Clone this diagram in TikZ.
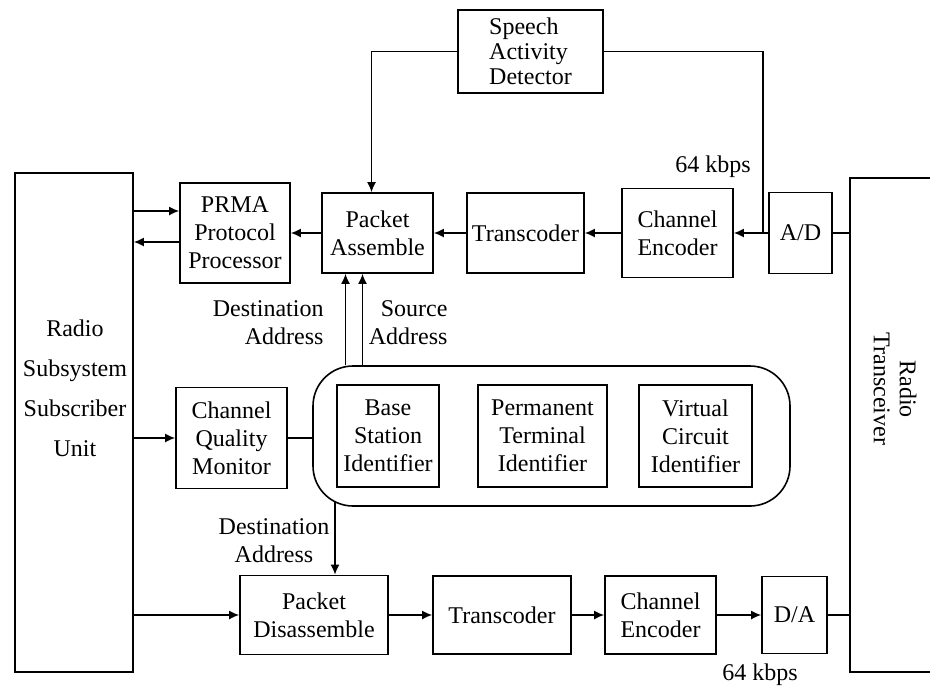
\documentclass[tikz,border=0pt]{standalone}
\usepackage{fontspec}
\setmainfont{Liberation Serif}
\usetikzlibrary{arrows.meta,calc}

\begin{document}
\begin{tikzpicture}[
  x=0.5pt, y=-0.5pt,
  font=\fontsize{12}{14}\selectfont,
  line width=0.8pt,
  blk/.style={draw, align=center, inner sep=1pt},
  grpbox/.style={draw, rounded corners=20pt},
  lbl/.style={align=center},
  arr/.style={-{Latex[length=5pt,width=4.5pt]}},
]
  \useasboundingbox (0,0) rectangle (930,686);
  \clip (0,0) rectangle (930,686);

  % Subscriber unit and transceiver
  \node[blk, minimum width=59pt, minimum height=249.5pt] (rssu) at (74,422.5) {};
  \node[lbl] (rssutxt) at (75,388) {Radio\\[6pt]Subsystem\\[6pt]Subscriber\\[6pt]Unit};
  \node[blk, minimum width=55pt, minimum height=247pt] (rt) at (905,425) {};
  \node[lbl, rotate=-90, font=\fontsize{12}{13}\selectfont] (rttxt) at (895,389)
    {Radio\\Transceiver};

  % Speech activity detector
  \node[blk, align=left, minimum width=72.5pt, minimum height=41.5pt,
    font=\fontsize{12}{12.5}\selectfont] (sad) at (530.5,51.5) {Speech\\Activity\\Detector};

  % Transmit chain
  \node[blk, minimum width=55pt, minimum height=50pt] (prma) at (235,233) {PRMA\\Protocol\\Processor};
  \node[blk, minimum width=55.5pt, minimum height=40pt] (pa) at (377.5,233) {Packet\\Assemble};
  \node[blk, minimum width=58.5pt, minimum height=40pt] (tc1) at (525.5,233) {Transcoder};
  \node[blk, minimum width=55.5pt, minimum height=44.5pt] (ce1) at (677.5,233) {Channel\\Encoder};
  \node[blk, minimum width=31.5pt, minimum height=40.5pt] (ad) at (800.5,233) {A/D};

  % Identifiers
  \node[blk, minimum width=55.5pt, minimum height=50.5pt] (cqm) at (231.5,438) {Channel\\Quality\\Monitor};
  \node[grpbox, minimum width=238.5pt, minimum height=70pt] (grp) at (551.5,436) {};
  \node[blk, minimum width=51pt, minimum height=51pt] (bsi) at (388,436) {Base\\Station\\Identifier};
  \node[blk, minimum width=64.5pt, minimum height=51pt] (pti) at (542.5,436) {Permanent\\Terminal\\Identifier};
  \node[blk, minimum width=56.5pt, minimum height=51pt] (vci) at (695.5,436) {Virtual\\Circuit\\Identifier};

  % Receive chain
  \node[blk, minimum width=74pt, minimum height=39.5pt] (pd) at (314,615) {Packet\\Disassemble};
  \node[blk, minimum width=69pt, minimum height=39pt] (tc2) at (502,615) {Transcoder};
  \node[blk, minimum width=55.5pt, minimum height=39pt] (ce2) at (660.5,615) {Channel\\Encoder};
  \node[blk, minimum width=32.5pt, minimum height=38.5pt] (da) at (794.5,615) {D/A};

  % Labels
  \node[lbl] (kbpsup) at (713,167) {64 kbps};
  \node[lbl] (kbpsdn) at (760,675) {64 kbps};
  \node[lbl, anchor=east, align=right] (dstup) at (331,323) {Destination\\Address};
  \node[lbl, anchor=east, align=right] (srcup) at (455,323) {Source\\Address};
  \node[lbl] (dstdn) at (274,541) {Destination\\Address};

  % Transmit connectors
  \coordinate (adin) at (763,233);
  \draw[arr] (sad.west) -| ($(pa.north)+(-6,0)$);
  \draw (sad.east) -| (adin);
  \draw[arr] (ad.west) -- (ce1.east);
  \draw[arr] (ce1.west) -- (tc1.east);
  \draw[arr] (tc1.west) -- (pa.east);
  \draw[arr] (pa.west) -- (prma.east);
  \draw[arr] ($(rssu.east |- prma.west)+(0,-22)$) -- ($(prma.west)+(0,-22)$);
  \draw[arr] ($(prma.west)+(0,9)$) -- ($(rssu.east |- prma.west)+(0,9)$);
  \draw (ad.east) -- (rt.west |- ad.east);

  % Identifier connectors
  \draw[arr] (rssu.east |- cqm.west) -- (cqm.west);
  \draw (cqm.east) -- (cqm.east -| grp.west);
  \draw[arr] ($(pa.south |- grp.north)+(-32,0)$) -- ($(pa.south)+(-32,0)$);
  \draw[arr] ($(pa.south |- grp.north)+(-15,0)$) -- ($(pa.south)+(-15,0)$);
  \draw[arr] ($(pd.north |- grp.south)+(21,-5)$) -- ($(pd.north)+(21,0)$);

  % Receive connectors
  \draw[arr] (rssu.east |- pd.west) -- (pd.west);
  \draw[arr] (pd.east) -- (tc2.west);
  \draw[arr] (tc2.east) -- (ce2.west);
  \draw[arr] (ce2.east) -- (da.west);
  \draw (da.east) -- (rt.west |- da.east);
\end{tikzpicture}
\end{document}
